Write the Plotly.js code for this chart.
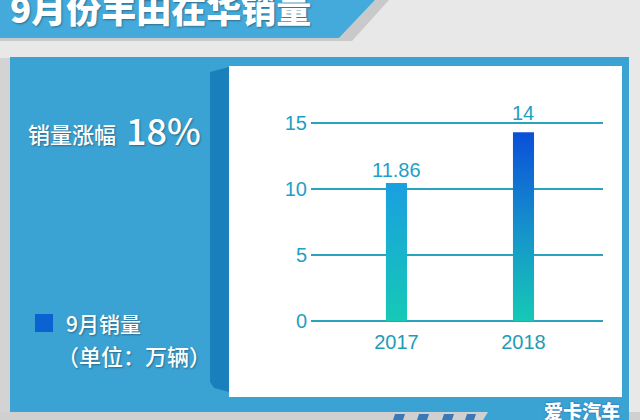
<!DOCTYPE html>
<html>
<head>
<meta charset="utf-8">
<script src="https://cdn.plot.ly/plotly-3.0.1.min.js"></script>
<style>
  html, body { margin: 0; padding: 0; background: #e8e8e8; }
  #chart { width: 640px; height: 420px; }
</style>
</head>
<body>
<div id="chart"></div>
<script>
// ---------- data ----------
const title = '9月份丰田在华销量';
const years = ['2017', '2018'];
const sales = [10.45, 14.3];          // bar heights as drawn
const saleLabels = ['11.86', '14'];   // value labels as printed
const yTicks = [0, 5, 10, 15];
const growthLabel = '销量涨幅';
const growthValue = '18%';
const legendName = '9月销量';
const unitLabel = '（单位：万辆）';
const brand = '爱卡汽车';

// ---------- geometry helpers ----------
const W = 640, H = 420;
const M = { l: 311, r: 37, t: 90, b: 95 };
const PW = W - M.l - M.r, PH = H - M.t - M.b;
const fx = px => (px - M.l) / PW;
const fy = py => (H - M.b - py) / PH;
const pt = (x, y) => fx(x).toFixed(5) + ',' + fy(y).toFixed(5);
const poly = pts => 'M' + pts.map(p => pt(p[0], p[1])).join(' L') + ' Z';

const CJK = '"Noto Sans CJK SC", "Noto Sans", sans-serif';
const LAT = '"Liberation Sans", Arial, sans-serif';
const SHADOW = '1px 1px 2px rgba(0,0,0,0.35)';

// ---------- bars (gradient filled) ----------
const halfW = 0.083;
const gradients = [
  [[0, '#15c9b6'], [1, '#1a9fe0']],
  [[0, '#15c9b6'], [0.5, '#1690cc'], [1, '#0a4fd8']]
];
const traces = years.map((yr, i) => ({
  type: 'scatter',
  mode: 'lines',
  x: [i - halfW, i + halfW, i + halfW, i - halfW],
  y: [0, 0, sales[i], sales[i]],
  fill: 'toself',
  line: { width: 0, color: 'rgba(0,0,0,0)' },
  fillcolor: gradients[i][gradients[i].length - 1][1],
  fillgradient: { type: 'vertical', colorscale: gradients[i] },
  name: yr,
  hoverinfo: 'skip',
  showlegend: false
}));

// ---------- shapes ----------
const shapes = [
  // left grey strip & bottom grey strip
  { type: 'rect', xref: 'paper', yref: 'paper', x0: fx(0), x1: fx(10), y0: fy(420), y1: fy(58), fillcolor: '#d3d3d3', line: { width: 0 }, layer: 'below' },
  { type: 'rect', xref: 'paper', yref: 'paper', x0: fx(0), x1: fx(640), y0: fy(420), y1: fy(412), fillcolor: '#d0d0d0', line: { width: 0 }, layer: 'below' },
  // title banner shadow + banner
  { type: 'path', xref: 'paper', yref: 'paper', path: poly([[0, 38], [0, 41], [352, 41], [389, 0], [375, 0], [339, 38]]), fillcolor: '#c9c9c9', line: { width: 0 }, layer: 'below' },
  { type: 'path', xref: 'paper', yref: 'paper', path: poly([[0, 0], [375, 0], [339, 38], [0, 38]]), fillcolor: '#44aadb', line: { width: 0 }, layer: 'below' },
  // blue panel
  { type: 'rect', xref: 'paper', yref: 'paper', x0: fx(10), x1: fx(629), y0: fy(412), y1: fy(57), fillcolor: '#3ba3d4', line: { width: 0 }, layer: 'below' },
  { type: 'path', xref: 'paper', yref: 'paper', path: poly([[488, 412], [629, 412], [629, 420], [483, 420]]), fillcolor: '#3ba3d4', line: { width: 0 }, layer: 'below' },
  // dark fold
  { type: 'path', xref: 'paper', yref: 'paper', path: poly([[210, 72], [229, 67], [229, 392], [214, 388], [210, 382]]), fillcolor: '#1a80bb', line: { width: 0 }, layer: 'below' },
  // white chart panel
  { type: 'rect', xref: 'paper', yref: 'paper', x0: fx(229), x1: fx(622), y0: fy(397), y1: fy(66), fillcolor: '#ffffff', line: { width: 0 }, layer: 'below' },
  // legend swatch
  { type: 'rect', xref: 'paper', yref: 'paper', x0: fx(35), x1: fx(53), y0: fy(332), y1: fy(314), fillcolor: '#0b63d2', line: { width: 0 }, layer: 'below' }
];
// small dark marks at the bottom
[[393, 403], [417, 427], [442, 452], [465, 474]].forEach(([a, b]) => {
  shapes.push({ type: 'path', xref: 'paper', yref: 'paper', path: poly([[a + 2, 414], [b + 2, 414], [b, 420], [a, 420]]), fillcolor: '#3b78b6', line: { width: 0 }, layer: 'below' });
});

// ---------- annotations ----------
const labelShift = [0, 6];
const annotations = years.map((yr, i) => ({
  x: i, y: sales[i], xref: 'x', yref: 'y',
  text: saleLabels[i], showarrow: false,
  yanchor: 'bottom', yshift: labelShift[i],
  font: { family: LAT, size: 20, color: '#1ea0c6' }
}));

annotations.push(
  { xref: 'paper', yref: 'paper', x: fx(26), y: fy(133), xanchor: 'left', yanchor: 'middle', showarrow: false,
    text: growthLabel, font: { family: CJK, size: 22, color: '#ffffff', weight: 500, shadow: SHADOW } },
  { xref: 'paper', yref: 'paper', x: fx(124), y: fy(129), xanchor: 'left', yanchor: 'middle', showarrow: false,
    text: growthValue, font: { family: CJK, size: 36, color: '#ffffff', weight: 500, shadow: SHADOW } },
  { xref: 'paper', yref: 'paper', x: fx(64), y: fy(323), xanchor: 'left', yanchor: 'middle', showarrow: false,
    text: legendName, font: { family: CJK, size: 21, color: '#ffffff', weight: 500, shadow: SHADOW } },
  { xref: 'paper', yref: 'paper', x: fx(55), y: fy(355), xanchor: 'left', yanchor: 'middle', showarrow: false,
    text: unitLabel, font: { family: CJK, size: 22, color: '#ffffff', weight: 500, shadow: SHADOW } },
  { xref: 'paper', yref: 'paper', x: fx(582), y: fy(411), xanchor: 'center', yanchor: 'middle', showarrow: false,
    text: brand, font: { family: CJK, size: 19, color: '#ffffff', weight: 900, shadow: '0 0 2px #1a5fa8' } }
);

// ---------- layout ----------
const layout = {
  width: W, height: H,
  margin: M,
  paper_bgcolor: '#e8e8e8',
  plot_bgcolor: 'rgba(0,0,0,0)',
  showlegend: false,
  title: {
    text: title,
    xref: 'container', yref: 'container',
    x: 10 / W, xanchor: 'left',
    y: 1 - 11 / H, yanchor: 'middle',
    font: { family: CJK, size: 35, color: '#ffffff', weight: 900, shadow: SHADOW }
  },
  xaxis: {
    type: 'linear',
    range: [-0.673, 1.626],
    tickvals: years.map((_, i) => i),
    ticktext: years,
    showgrid: false, zeroline: false, showline: false,
    ticks: '', ticklabelstandoff: 3,
    tickfont: { family: LAT, size: 20, color: '#1e9cb6' },
    fixedrange: true
  },
  yaxis: {
    range: [-0.303, 17.5],
    tickvals: yTicks,
    ticktext: yTicks.map(String),
    showgrid: true, gridcolor: '#2aa3bd', gridwidth: 2,
    zeroline: false, showline: false,
    ticks: '', ticklabelstandoff: 3,
    tickfont: { family: LAT, size: 20, color: '#1fa0c4' },
    fixedrange: true
  },
  shapes: shapes,
  annotations: annotations
};

Plotly.newPlot('chart', traces, layout, { displayModeBar: false, staticPlot: true });
</script>
</body>
</html>
